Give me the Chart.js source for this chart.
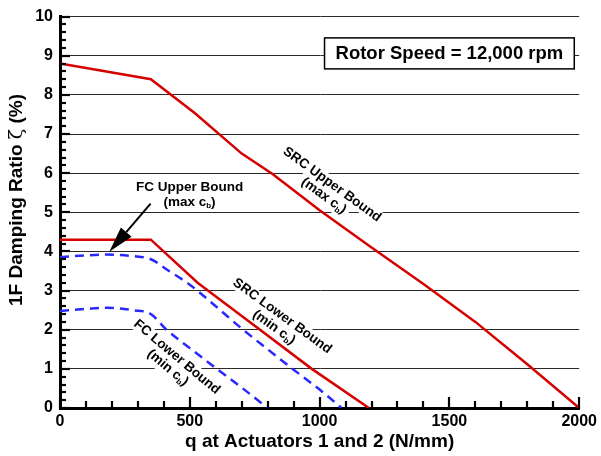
<!DOCTYPE html>
<html>
<head>
<meta charset="utf-8">
<script src="https://cdn.jsdelivr.net/npm/chart.js@4.4.1/dist/chart.umd.min.js"></script>
<style>
  html, body { margin: 0; padding: 0; background: #fff; }
  #wrap { width: 601px; height: 456px; }
</style>
</head>
<body>
<div id="wrap"><canvas id="chart"></canvas></div>
<script>
// values: q (N/mm) vs 1F damping ratio (%)
const srcUpperQ = [0, 350, 520, 700, 820, 1000, 1200, 1400, 1600, 1800, 2000];
const srcUpperZeta = [8.8, 8.4, 7.53, 6.5, 5.97, 5.05, 4.1, 3.17, 2.2, 1.12, 0];
const srcLowerQ = [0, 350, 530, 750, 970, 1190];
const srcLowerZeta = [4.3, 4.3, 3.2, 2.1, 1.0, 0];
const fcUpperQ = [0, 100, 180, 280, 350, 420, 500, 600, 700, 800, 900, 1000, 1085];
const fcUpperZeta = [3.85, 3.9, 3.92, 3.88, 3.8, 3.5, 3.15, 2.6, 2.03, 1.5, 0.98, 0.47, 0];
const fcLowerQ = [0, 100, 180, 280, 350, 410, 500, 600, 700, 800];
const fcLowerZeta = [2.48, 2.53, 2.56, 2.5, 2.4, 2.0, 1.53, 1.02, 0.52, 0];

const xRange = [0, 2000];
const yRange = [0, 10];
const xMinorStep = 100;
const yMinorStep = 0.2;

const FONT = '"Liberation Sans", Arial, Helvetica, sans-serif';
const SERIF = '"DejaVu Serif", "Liberation Serif", serif';
const RED = 'rgb(214, 0, 0)';
const BLUE = 'rgb(40, 40, 255)';

// curve labels, anchored in data units
const notes = [
  { text: 'FC Upper Bound', sub: 'max', q: 499, zeta: 5.64, angle: 0, gap: 15 },
  { text: 'SRC Upper Bound', sub: 'max', q: 1048, zeta: 5.71, angle: 36, gap: 14 },
  { text: 'SRC Lower Bound', sub: 'min', q: 856, zeta: 2.35, angle: 36, gap: 14 },
  { text: 'FC Lower Bound', sub: 'min', q: 450, zeta: 1.3, angle: 40, gap: 14 },
];
const speedNote = { text: 'Rotor Speed = 12,000 rpm', q: 1500, zeta: 9.06 };
const arrowNote = { from: [349, 5.22], to: [190, 3.99] };
// y title in three runs so the Greek letter can use its own face
const yTitle = [
  { text: '1F Damping Ratio ', font: `bold 19px ${FONT}` },
  { text: 'ζ', font: `19px ${SERIF}` },
  { text: ' (%)', font: `bold 19px ${FONT}` },
];

const pts = (xs, ys) => xs.map((x, i) => ({ x, y: ys[i] }));

function drawNote(ctx, n, cx, cy) {
  ctx.save();
  ctx.translate(cx, cy);
  ctx.rotate(n.angle * Math.PI / 180);
  ctx.fillStyle = '#000';
  ctx.textBaseline = 'middle';
  ctx.textAlign = 'center';
  ctx.font = `bold 13.5px ${FONT}`;
  ctx.fillText(n.text, 0, 0);
  // second line: (max c_b) with subscript
  const a = `(${n.sub} c`;
  const b = 'b';
  const c = ')';
  const wa = ctx.measureText(a).width;
  const wc = ctx.measureText(c).width;
  ctx.font = `bold 8px ${FONT}`;
  const wb = ctx.measureText(b).width;
  const x0 = -(wa + wb + wc) / 2;
  ctx.textAlign = 'left';
  ctx.font = `bold 13.5px ${FONT}`;
  ctx.fillText(a, x0, n.gap);
  ctx.font = `bold 8px ${FONT}`;
  ctx.fillText(b, x0 + wa, n.gap + 4);
  ctx.font = `bold 13.5px ${FONT}`;
  ctx.fillText(c, x0 + wa + wb, n.gap);
  ctx.restore();
}

function noteBackground(ctx, n, cx, cy) {
  ctx.save();
  ctx.translate(cx, cy);
  ctx.rotate(n.angle * Math.PI / 180);
  ctx.font = `bold 13.5px ${FONT}`;
  const w = ctx.measureText(n.text).width;
  ctx.fillStyle = '#fff';
  ctx.fillRect(-w / 2 - 1, -7, w + 2, 14);
  ctx.fillRect(-30, n.gap - 7, 60, 16);
  ctx.restore();
}

function drawYTitle(ctx, cx, cy) {
  ctx.save();
  ctx.translate(cx, cy);
  ctx.rotate(-Math.PI / 2);
  ctx.fillStyle = '#000';
  ctx.textBaseline = 'middle';
  ctx.textAlign = 'left';
  const widths = yTitle.map(r => { ctx.font = r.font; return ctx.measureText(r.text).width; });
  let xx = -widths.reduce((s, w) => s + w, 0) / 2;
  yTitle.forEach((r, i) => {
    ctx.font = r.font;
    ctx.fillText(r.text, xx, 0);
    xx += widths[i];
  });
  ctx.restore();
}

// ticks point into the plot, majors longer than minors
function drawInwardTicks(chart) {
  const { ctx, scales: { x, y } } = chart;
  const base = y.getPixelForValue(yRange[0]);
  const left = x.getPixelForValue(xRange[0]);
  ctx.save();
  ctx.strokeStyle = '#000';
  ctx.lineWidth = 2.2;
  const nx = Math.round((xRange[1] - xRange[0]) / xMinorStep);
  for (let i = 0; i <= nx; i++) {
    const px = Math.round(x.getPixelForValue(xRange[0] + i * xMinorStep));
    const len = i % 5 === 0 ? 11 : 7;
    ctx.beginPath();
    ctx.moveTo(px, base + 1);
    ctx.lineTo(px, base - len);
    ctx.stroke();
  }
  const ny = Math.round((yRange[1] - yRange[0]) / yMinorStep);
  for (let i = 0; i <= ny; i++) {
    const py = Math.round(y.getPixelForValue(yRange[0] + i * yMinorStep));
    const len = i % 5 === 0 ? 10 : 6;
    ctx.beginPath();
    ctx.moveTo(left - 1, py);
    ctx.lineTo(left + len, py);
    ctx.stroke();
  }
  ctx.restore();
}

const decorations = {
  id: 'decorations',
  beforeDatasetsDraw(chart) {
    const { ctx, scales: { x, y } } = chart;
    notes.forEach(n => noteBackground(ctx, n, x.getPixelForValue(n.q), y.getPixelForValue(n.zeta)));
  },
  afterDraw(chart) {
    const { ctx, scales: { x, y } } = chart;
    drawInwardTicks(chart);
    drawYTitle(ctx, 17, 200);
    ctx.save();

    // curve labels
    notes.forEach(n => drawNote(ctx, n, x.getPixelForValue(n.q), y.getPixelForValue(n.zeta)));

    // rotor speed box
    ctx.font = `bold 18.5px ${FONT}`;
    const sw = ctx.measureText(speedNote.text).width;
    const bx = x.getPixelForValue(speedNote.q);
    const by = y.getPixelForValue(speedNote.zeta);
    ctx.fillStyle = '#fff';
    ctx.fillRect(bx - sw / 2 - 11, by - 15.5, sw + 22, 31);
    ctx.lineWidth = 1.5;
    ctx.strokeStyle = '#000';
    ctx.strokeRect(bx - sw / 2 - 11, by - 15.5, sw + 22, 31);
    ctx.fillStyle = '#000';
    ctx.textAlign = 'center';
    ctx.textBaseline = 'middle';
    ctx.fillText(speedNote.text, bx, by + 1);

    // arrow to FC upper curve
    const x1 = x.getPixelForValue(arrowNote.from[0]);
    const y1 = y.getPixelForValue(arrowNote.from[1]);
    const x2 = x.getPixelForValue(arrowNote.to[0]);
    const y2 = y.getPixelForValue(arrowNote.to[1]);
    const ang = Math.atan2(y2 - y1, x2 - x1);
    const headLen = 26;
    const headW = 7;
    ctx.lineWidth = 2;
    ctx.beginPath();
    ctx.moveTo(x1, y1);
    ctx.lineTo(x2 - headLen * Math.cos(ang), y2 - headLen * Math.sin(ang));
    ctx.stroke();
    ctx.beginPath();
    ctx.moveTo(x2, y2);
    ctx.lineTo(x2 - headLen * Math.cos(ang) + headW * Math.sin(ang), y2 - headLen * Math.sin(ang) - headW * Math.cos(ang));
    ctx.lineTo(x2 - headLen * Math.cos(ang) - headW * Math.sin(ang), y2 - headLen * Math.sin(ang) + headW * Math.cos(ang));
    ctx.closePath();
    ctx.fill();

    ctx.restore();
  },
};

const redLine = { borderColor: RED, borderWidth: 2.5, pointRadius: 0, tension: 0, fill: false };
const blueLine = { borderColor: BLUE, borderWidth: 2.5, borderDash: [9, 6], pointRadius: 0, cubicInterpolationMode: 'monotone', fill: false };

new Chart(document.getElementById('chart'), {
  type: 'line',
  data: {
    datasets: [
      { label: 'SRC Upper Bound', data: pts(srcUpperQ, srcUpperZeta), ...redLine },
      { label: 'SRC Lower Bound', data: pts(srcLowerQ, srcLowerZeta), ...redLine },
      { label: 'FC Upper Bound', data: pts(fcUpperQ, fcUpperZeta), ...blueLine },
      { label: 'FC Lower Bound', data: pts(fcLowerQ, fcLowerZeta), ...blueLine },
    ],
  },
  options: {
    responsive: true,
    maintainAspectRatio: false,
    animation: false,
    devicePixelRatio: 1,
    layout: { padding: { top: 16, right: 19, left: 0, bottom: 0 } },
    plugins: {
      legend: { display: false },
      tooltip: { enabled: false },
    },
    scales: {
      x: {
        type: 'linear',
        min: xRange[0],
        max: xRange[1],
        afterFit: s => { s.height = 48; },
        grid: { display: false, drawTicks: false },
        border: { display: true, color: '#000', width: 3 },
        ticks: {
          stepSize: 500,
          padding: 4,
          color: '#000',
          font: { family: FONT, size: 16, weight: 'bold' },
          maxRotation: 0,
          callback: v => String(v),
        },
        title: {
          display: true,
          text: 'q at Actuators 1 and 2 (N/mm)',
          color: '#000',
          font: { family: FONT, size: 19, weight: 'bold' },
          padding: { top: 0, bottom: 3 },
        },
      },
      y: {
        type: 'linear',
        min: yRange[0],
        max: yRange[1],
        afterFit: s => { s.width = 60; },
        grid: { color: '#2a2a2a', lineWidth: 1, drawTicks: false },
        border: { display: true, color: '#000', width: 3 },
        ticks: {
          stepSize: 1,
          padding: 7,
          color: '#000',
          font: { family: FONT, size: 16, weight: 'bold' },
          callback: v => String(v),
        },
        title: { display: false },
      },
    },
  },
  plugins: [decorations],
});
</script>
</body>
</html>
